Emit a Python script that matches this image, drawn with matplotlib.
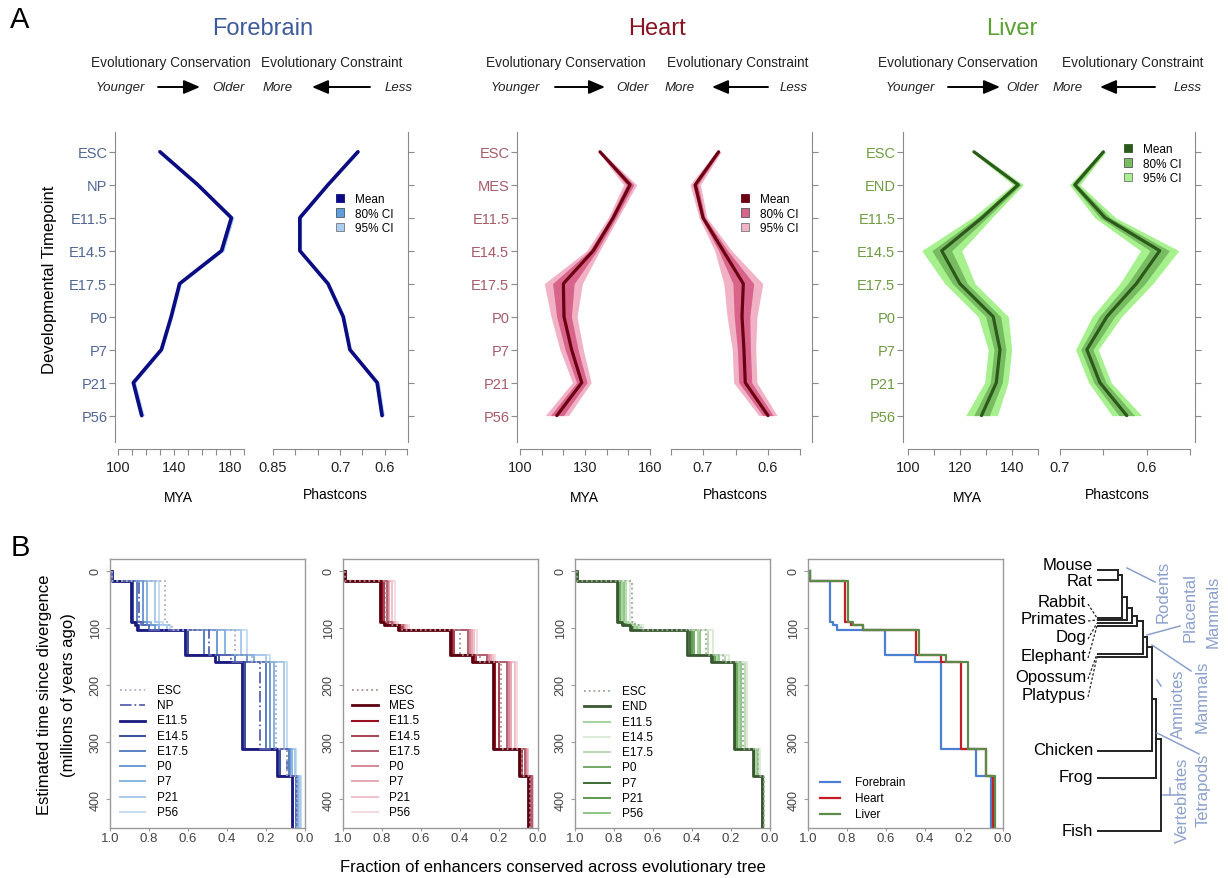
import numpy as np
import matplotlib
matplotlib.use("Agg")
import matplotlib.pyplot as plt
from matplotlib.patches import Patch

plt.rcParams["font.family"] = ["Liberation Sans", "DejaVu Sans"]

# ---------------- Panel A data ----------------
fb_stages = ["ESC", "NP", "E11.5", "E14.5", "E17.5", "P0", "P7", "P21", "P56"]
ht_stages = ["ESC", "MES", "E11.5", "E14.5", "E17.5", "P0", "P7", "P21", "P56"]
lv_stages = ["ESC", "END", "E11.5", "E14.5", "E17.5", "P0", "P7", "P21", "P56"]

fb_mya = [130, 157, 181, 174, 144, 138, 131, 111, 117]
fb_mya_ci80 = [0.6, 0.7, 1.0, 1.0, 0.8, 0.7, 0.7, 0.9, 1.0]
fb_mya_ci95 = [1.0, 1.2, 1.8, 1.8, 1.4, 1.2, 1.2, 1.6, 1.8]
fb_phast = [0.660, 0.727, 0.790, 0.790, 0.727, 0.693, 0.678, 0.617, 0.606]
fb_phast_ci80 = [0.002, 0.002, 0.002, 0.002, 0.002, 0.002, 0.002, 0.003, 0.003]
fb_phast_ci95 = [0.003, 0.003, 0.004, 0.004, 0.004, 0.004, 0.004, 0.005, 0.005]

ht_mya = [136.9, 150.8, 143.0, 133.8, 120.0, 120.3, 123.8, 128.5, 117.0]
ht_mya_ci80 = [0.5, 1.7, 1.3, 1.7, 5.0, 3.4, 3.0, 2.4, 3.0]
ht_mya_ci95 = [0.8, 3.0, 2.3, 3.0, 8.8, 6.0, 5.4, 4.3, 5.4]
ht_phast = [0.676, 0.712, 0.700, 0.669, 0.638, 0.640, 0.637, 0.635, 0.600]
ht_phast_ci80 = [0.002, 0.004, 0.003, 0.007, 0.016, 0.012, 0.010, 0.010, 0.008]
ht_phast_ci95 = [0.004, 0.008, 0.006, 0.013, 0.030, 0.023, 0.018, 0.018, 0.014]

lv_mya = [125.4, 142.4, 128.5, 113.0, 120.0, 132.8, 135.4, 134.0, 128.3]
lv_mya_ci80 = [0.5, 1.0, 1.9, 3.8, 2.9, 2.9, 2.3, 2.3, 3.0]
lv_mya_ci95 = [1.0, 2.0, 3.8, 7.7, 5.8, 5.8, 4.5, 4.5, 6.1]
lv_phast = [0.650, 0.683, 0.648, 0.585, 0.612, 0.646, 0.669, 0.654, 0.623]
lv_phast_ci80 = [0.0015, 0.003, 0.006, 0.011, 0.010, 0.009, 0.007, 0.007, 0.009]
lv_phast_ci95 = [0.003, 0.006, 0.012, 0.022, 0.019, 0.017, 0.013, 0.013, 0.017]

fb_mya_ticks = [100, 110, 120, 130, 140, 150, 160, 170, 180, 190]
fb_mya_labels = ["100", "", "", "", "140", "", "", "", "180", ""]
fb_ph_ticks = [0.85, 0.80, 0.75, 0.70, 0.65, 0.60, 0.55]
fb_ph_labels = ["0.85", "", "", "0.7", "", "0.6", ""]
ht_mya_ticks = [100, 110, 120, 130, 140, 150, 160]
ht_mya_labels = ["100", "", "", "130", "", "", "160"]
ht_ph_ticks = [0.75, 0.70, 0.65, 0.60, 0.55]
ht_ph_labels = ["", "0.7", "", "0.6", ""]
lv_mya_ticks = [100, 110, 120, 130, 140, 150]
lv_mya_labels = ["100", "", "120", "", "140", ""]
lv_ph_ticks = [0.70, 0.65, 0.60, 0.55]
lv_ph_labels = ["0.7", "", "0.6", ""]

# ---------------- Panel B data ----------------
b_edges = [0, 18, 90, 96, 104, 147, 160, 312, 360, 452]

fb_frac = [
    [0.99, 0.72, 0.70, 0.68, 0.36, 0.27, 0.15, 0.09, 0.04],
    [0.99, 0.85, 0.83, 0.80, 0.49, 0.38, 0.23, 0.09, 0.045],
    [0.99, 0.89, 0.87, 0.86, 0.615, 0.46, 0.325, 0.145, 0.065],
    [0.99, 0.88, 0.86, 0.85, 0.60, 0.44, 0.31, 0.13, 0.06],
    [0.99, 0.86, 0.84, 0.80, 0.52, 0.36, 0.20, 0.08, 0.045],
    [0.99, 0.83, 0.81, 0.77, 0.45, 0.30, 0.18, 0.075, 0.04],
    [0.99, 0.81, 0.79, 0.75, 0.41, 0.26, 0.16, 0.065, 0.035],
    [0.99, 0.77, 0.75, 0.71, 0.33, 0.20, 0.11, 0.05, 0.025],
    [0.99, 0.75, 0.73, 0.69, 0.30, 0.18, 0.09, 0.045, 0.02],
]
ht_frac = [
    [0.99, 0.78, 0.76, 0.70, 0.40, 0.30, 0.19, 0.08, 0.04],
    [0.99, 0.81, 0.79, 0.72, 0.45, 0.34, 0.23, 0.095, 0.05],
    [0.99, 0.80, 0.78, 0.71, 0.44, 0.33, 0.22, 0.09, 0.045],
    [0.99, 0.79, 0.77, 0.70, 0.43, 0.32, 0.20, 0.08, 0.04],
    [0.99, 0.775, 0.75, 0.69, 0.36, 0.26, 0.16, 0.065, 0.033],
    [0.99, 0.77, 0.745, 0.685, 0.35, 0.25, 0.15, 0.06, 0.03],
    [0.99, 0.765, 0.74, 0.68, 0.34, 0.24, 0.14, 0.058, 0.03],
    [0.99, 0.75, 0.73, 0.67, 0.33, 0.23, 0.12, 0.052, 0.028],
    [0.99, 0.735, 0.72, 0.66, 0.315, 0.22, 0.11, 0.05, 0.027],
]
lv_frac = [
    [0.99, 0.71, 0.69, 0.66, 0.33, 0.24, 0.14, 0.06, 0.032],
    [0.99, 0.785, 0.76, 0.72, 0.425, 0.30, 0.185, 0.085, 0.04],
    [0.99, 0.76, 0.73, 0.69, 0.37, 0.27, 0.16, 0.07, 0.035],
    [0.99, 0.72, 0.70, 0.65, 0.29, 0.21, 0.12, 0.05, 0.03],
    [0.99, 0.74, 0.71, 0.67, 0.32, 0.23, 0.13, 0.055, 0.03],
    [0.99, 0.77, 0.74, 0.70, 0.39, 0.28, 0.17, 0.07, 0.036],
    [0.99, 0.78, 0.75, 0.71, 0.41, 0.29, 0.18, 0.08, 0.04],
    [0.99, 0.77, 0.74, 0.70, 0.40, 0.28, 0.17, 0.075, 0.038],
    [0.99, 0.75, 0.72, 0.68, 0.36, 0.26, 0.15, 0.065, 0.034],
]
comb_labels = ["Forebrain", "Heart", "Liver"]
comb_frac = [
    [0.99, 0.887, 0.87, 0.85, 0.605, 0.45, 0.316, 0.14, 0.062],
    [0.99, 0.81, 0.78, 0.72, 0.445, 0.32, 0.215, 0.087, 0.05],
    [0.99, 0.795, 0.77, 0.72, 0.43, 0.29, 0.18, 0.085, 0.04],
]

# tree (cladogram)
tree_tips = ["Mouse", "Rat", "Rabbit", "Primates", "Dog", "Elephant",
             "Opossum", "Platypus", "Chicken", "Frog", "Fish"]
tip_text_y = [566, 582, 603, 620, 638, 657, 678, 696, 751, 778, 832]
tip_branch_y = [571, 581, 619, 621, 624, 627, 655, 658, 752, 779, 832]
tip_leader = [False, False, True, True, True, True, True, True, False, False, False]
join_x = [1118, 1122, 1127, 1132, 1137, 1143, 1147, 1152, 1156, 1161]

W, H = 1228, 879
fig = plt.figure(figsize=(W / 100, H / 100), dpi=100)


def px_axes(x0, x1, y0, y1):
    return fig.add_axes([x0 / W, 1 - y1 / H, (x1 - x0) / W, (y1 - y0) / H])


def ftext(x, y, s, **kw):
    fig.text(x / W, 1 - y / H, s, **kw)


SPINE = "#8a8a8a"

blocks = [
    dict(title="Forebrain", tcol="#3d5a9c", lcol="#4f6694", stages=fb_stages,
         mya=fb_mya, m80=fb_mya_ci80, m95=fb_mya_ci95,
         ph=fb_phast, p80=fb_phast_ci80, p95=fb_phast_ci95,
         cols=("#0b0b82", "#5d9fe0", "#aacdf2"), lw=2.6,
         mbox=(115, 250), mlim=(97.9, 194.3), mt=fb_mya_ticks, ml=fb_mya_labels,
         pbox=(269, 408), plim=(0.859, 0.548), pt=fb_ph_ticks, pl=fb_ph_labels,
         leg=(336, 194), labx=(178, 335),
         hdr=dict(title=263, ec=171, con=332, young=120, arr1=(158, 200), old=228,
                  more=278, arr2=(370, 312), less=399)),
    dict(title="Heart", tcol="#8a1424", lcol="#a85a68", stages=ht_stages,
         mya=ht_mya, m80=ht_mya_ci80, m95=ht_mya_ci95,
         ph=ht_phast, p80=ht_phast_ci80, p95=ht_phast_ci95,
         cols=("#6a0012", "#d8648c", "#f2b2c6"), lw=2.3,
         mbox=(517, 655), mlim=(98.6, 162.3), mt=ht_mya_ticks, ml=ht_mya_labels,
         pbox=(670, 812), plim=(0.7508, 0.5323), pt=ht_ph_ticks, pl=ht_ph_labels,
         leg=(741, 194), labx=(584, 735),
         hdr=dict(title=657, ec=566, con=738, young=515, arr1=(555, 605), old=632,
                  more=680, arr2=(768, 712), less=794)),
    dict(title="Liver", tcol="#5aa032", lcol="#6e9c42", stages=lv_stages,
         mya=lv_mya, m80=lv_mya_ci80, m95=lv_mya_ci95,
         ph=lv_phast, p80=lv_phast_ci80, p95=lv_phast_ci95,
         cols=("#2c5a1a", "#78bc62", "#a6f08e"), lw=2.3,
         mbox=(903, 1040), mlim=(98.1, 150.8), mt=lv_mya_ticks, ml=lv_mya_labels,
         pbox=(1055, 1195), plim=(0.7058, 0.5443), pt=lv_ph_ticks, pl=lv_ph_labels,
         leg=(1124, 144), labx=(967, 1117),
         hdr=dict(title=1012, ec=958, con=1133, young=910, arr1=(948, 1000), old=1022,
                  more=1068, arr2=(1155, 1100), less=1188)),
]


def draw_profile(ax, vals, c80, c95, cols, lw):
    v = np.asarray(vals, float)
    y = np.arange(len(v))
    ax.fill_betweenx(y, v - np.asarray(c95), v + np.asarray(c95), color=cols[2], lw=0)
    ax.fill_betweenx(y, v - np.asarray(c80), v + np.asarray(c80), color=cols[1], lw=0)
    ax.plot(v, y, color=cols[0], lw=lw, solid_joinstyle="round", solid_capstyle="round")


def style_a(ax, side, lim, ticks, labels, n):
    ax.set_xlim(*lim)
    ax.set_ylim(n - 0.2, -0.6)
    for s in ["top", "left", "right"]:
        ax.spines[s].set_visible(False)
    ax.spines[side].set_visible(True)
    ax.spines[side].set_color(SPINE)
    ax.spines["bottom"].set_color(SPINE)
    ax.spines["bottom"].set_bounds(ticks[0], ticks[-1])
    ax.spines["bottom"].set_position(("outward", 5))
    ax.set_xticks(ticks)
    ax.set_xticklabels(labels)
    ax.tick_params(axis="x", length=4, color=SPINE, labelsize=10.5, pad=4, labelcolor="#222222")
    ax.set_yticks(np.arange(n))
    ax.tick_params(axis="y", length=4, color=SPINE)
    ax.patch.set_alpha(0)


for b in blocks:
    n = len(b["stages"])
    axm = px_axes(b["mbox"][0], b["mbox"][1], 133, 443)
    draw_profile(axm, b["mya"], b["m80"], b["m95"], b["cols"], b["lw"])
    style_a(axm, "left", b["mlim"], b["mt"], b["ml"], n)
    axm.set_yticklabels(b["stages"], fontsize=10.5, color=b["lcol"])
    axm.tick_params(axis="y", pad=1.5)

    axp = px_axes(b["pbox"][0], b["pbox"][1], 133, 443)
    draw_profile(axp, b["ph"], b["p80"], b["p95"], b["cols"], b["lw"])
    style_a(axp, "right", b["plim"], b["pt"], b["pl"], n)
    axp.yaxis.tick_right()
    axp.tick_params(axis="y", labelright=False)

    handles = [Patch(fc=b["cols"][0], ec=b["cols"][0], lw=0.6),
               Patch(fc=b["cols"][1], ec="#555555", lw=0.6),
               Patch(fc=b["cols"][2], ec="#777777", lw=0.6)]
    axp.legend(handles, ["Mean", "80% CI", "95% CI"], loc="upper left",
               bbox_to_anchor=(b["leg"][0] / W, 1 - b["leg"][1] / H),
               bbox_transform=fig.transFigure, frameon=False, fontsize=8.5,
               handlelength=0.7, handleheight=0.7, handletextpad=0.9,
               labelspacing=0.22, borderpad=0, borderaxespad=0)

    ftext(b["labx"][0], 498, "MYA", ha="center", va="center", fontsize=10)
    ftext(b["labx"][1], 495, "Phastcons", ha="center", va="center", fontsize=10)

    h = b["hdr"]
    ftext(h["title"], 29, b["title"], ha="center", va="center", fontsize=17, color=b["tcol"])
    ftext(h["ec"], 63, "Evolutionary Conservation", ha="center", va="center", fontsize=9.8, color="#222222")
    ftext(h["con"], 63, "Evolutionary Constraint", ha="center", va="center", fontsize=9.8, color="#222222")
    ftext(h["young"], 88, "Younger", ha="center", va="center", fontsize=9.5, style="italic", color="#222222")
    ftext(h["old"], 88, "Older", ha="center", va="center", fontsize=9.5, style="italic", color="#222222")
    ftext(h["more"], 88, "More", ha="center", va="center", fontsize=9.5, style="italic", color="#222222")
    ftext(h["less"], 88, "Less", ha="center", va="center", fontsize=9.5, style="italic", color="#222222")

ftext(50, 280, "Developmental Timepoint", rotation=90, ha="center", va="center", fontsize=12)
ftext(20, 20, "A", ha="center", va="center", fontsize=21)
ftext(20, 548, "B", ha="center", va="center", fontsize=21)

# ---------------- Panel B ----------------
fb_colors = ["#a4b0cc", "#5a63b0", "#1a1a80", "#3a4fa0", "#5a80c4", "#6b9ad6", "#88b4e4", "#a9c9ec", "#c7dcf2"]
ht_colors = ["#b09090", "#5a0010", "#9a1020", "#a84050", "#b06070", "#d88898", "#e8a6b4", "#f0c2cb", "#f5dadf"]
lv_colors = ["#98a898", "#3a5830", "#a8d4a0", "#dcecd6", "#bcdcb4", "#74a864", "#3e6a36", "#5e9a50", "#8ec684"]
comb_colors = ["#4a7fd4", "#c41e24", "#5c8a48"]
fb_styles = [":", "-.", "-", "-", "-", "-", "-", "-", "-"]
other_styles = [":", "-", "-", "-", "-", "-", "-", "-", "-"]
fb_widths = [1.3, 1.3, 2.0, 1.4, 1.4, 1.4, 1.4, 1.4, 1.4]
other_widths = [1.3, 2.0, 1.5, 1.4, 1.4, 1.4, 1.4, 1.4, 1.4]

b_boxes = [(110, 305), (343, 538), (575, 770), (808, 1003)]


def step_xy(fracs):
    f = np.asarray(fracs, float)
    e = np.asarray(b_edges, float)
    return np.repeat(f, 2), np.column_stack([e[:-1], e[1:]]).ravel()


def style_b(ax):
    ax.set_xlim(1, 0)
    ax.set_ylim(450.8, -20.5)
    for s in ax.spines.values():
        s.set_color("#9a9a9a")
        s.set_linewidth(1.0)
    ax.set_xticks([1.0, 0.8, 0.6, 0.4, 0.2, 0.0])
    ax.set_xticklabels(["1.0", "0.8", "0.6", "0.4", "0.2", "0.0"])
    ax.set_yticks([0, 100, 200, 300, 400])
    ax.tick_params(axis="x", length=2, pad=1, labelsize=9.5, color="#9a9a9a", labelcolor="#444444")
    ax.tick_params(axis="y", length=3, pad=3, labelsize=9, color="#9a9a9a", labelcolor="#444444")
    for t in ax.get_yticklabels():
        t.set_rotation(90)
        t.set_va("center")


# legends of panel B are laid out row by row (sample start, sample end, text x, first row, pitch)
b_legend_pos = [(120, 145, 157, 691, 15.25), (352, 378, 389, 691, 15.25),
                (584, 610, 622, 692, 15.3), (820, 840, 855, 783, 16.0)]
legend_rows = []

sets = [
    (fb_frac, fb_stages, fb_colors, fb_styles, fb_widths),
    (ht_frac, ht_stages, ht_colors, other_styles, other_widths),
    (lv_frac, lv_stages, lv_colors, other_styles, other_widths),
    (comb_frac, comb_labels, comb_colors, ["-", "-", "-"], [1.6, 1.6, 1.6]),
]
for i, (fr, st, co, ls, lw) in enumerate(sets):
    ax = px_axes(b_boxes[i][0], b_boxes[i][1], 560, 829)
    order = reversed(range(len(fr))) if i < 3 else range(len(fr))
    for k in order:
        xs, ys = step_xy(fr[k])
        ax.plot(xs, ys, color=co[k], ls=ls[k], lw=lw[k])
    style_b(ax)
    legend_rows.append((st, co, ls, lw, b_legend_pos[i]))

ftext(45, 695, "Estimated time since divergence", rotation=90, ha="center", va="center", fontsize=12)
ftext(68, 695, "(millions of years ago)", rotation=90, ha="center", va="center", fontsize=12)
ftext(553, 868, "Fraction of enhancers conserved across evolutionary tree",
      ha="center", va="center", fontsize=12)

# ---------------- overlay: arrows, legends of B, tree ----------------
ov = fig.add_axes([0, 0, 1, 1])
ov.set_xlim(0, W)
ov.set_ylim(H, 0)
ov.axis("off")
ov.patch.set_visible(False)

for st, co, ls, lw, (xa, xb, xt, y0, dy) in legend_rows:
    for k, lab in enumerate(st):
        y = y0 + k * dy
        ov.plot([xa, xb], [y, y], color=co[k], ls=ls[k], lw=lw[k])
        ov.text(xt, y, lab, ha="left", va="center", fontsize=8.5)

for b in blocks:
    h = b["hdr"]
    for a in (h["arr1"], h["arr2"]):
        ov.annotate("", xy=(a[1], 88), xytext=(a[0], 88),
                    arrowprops=dict(arrowstyle="-|>,head_length=0.7,head_width=0.3",
                                    lw=1.4, color="k", shrinkA=0, shrinkB=0,
                                    mutation_scale=14))

TREE = "#222222"
CLADE = "#8aa0cc"
for k, name in enumerate(tree_tips):
    y = tip_branch_y[k]
    end = join_x[0] if k < 2 else join_x[k - 1]
    ov.plot([1098, end], [y, y], color=TREE, lw=1.4)
    if tip_leader[k]:
        ov.text(1086, tip_text_y[k], name, ha="right", va="center", fontsize=12)
        ov.plot([1088, 1097], [tip_text_y[k] + 2, y], color=TREE, lw=0.9, ls=(0, (2, 1.5)))
    else:
        ov.text(1093, tip_text_y[k], name, ha="right", va="center", fontsize=12)

ov.plot([join_x[0], join_x[0]], [tip_branch_y[0], tip_branch_y[1]], color=TREE, lw=1.4)
clade_y = (tip_branch_y[0] + tip_branch_y[1]) / 2
for k in range(2, len(tree_tips)):
    x0, x1 = join_x[k - 2], join_x[k - 1]
    ov.plot([x0, x1], [clade_y, clade_y], color=TREE, lw=1.4)
    ov.plot([x1, x1], [clade_y, tip_branch_y[k]], color=TREE, lw=1.4)
    clade_y = (clade_y + tip_branch_y[k]) / 2

clade_names = ["Rodents", "Placental", "Mammals", "Mammals", "Amniotes", "Tetrapods", "Vertebrates"]
clade_xy = [(1163, 592), (1190, 608), (1213, 612), (1202, 697), (1178, 704), (1203, 790), (1182, 800)]
for name, (x, y) in zip(clade_names, clade_xy):
    ov.text(x, y, name, rotation=90, ha="center", va="center", fontsize=12, color=CLADE)

pointers = [((1127, 569), (1155, 583)), ((1147, 636), (1180, 627)),
            ((1152, 646), (1191, 672)), ((1157, 681), (1161, 687)),
            ((1157, 734), (1199, 755)), ((1163, 796), (1178, 796)),
            ((1170, 789), (1170, 796))]
for (p0, p1) in pointers:
    ov.plot([p0[0], p1[0]], [p0[1], p1[1]], color=CLADE, lw=1.1)

fig.savefig("out.png", dpi=100)
